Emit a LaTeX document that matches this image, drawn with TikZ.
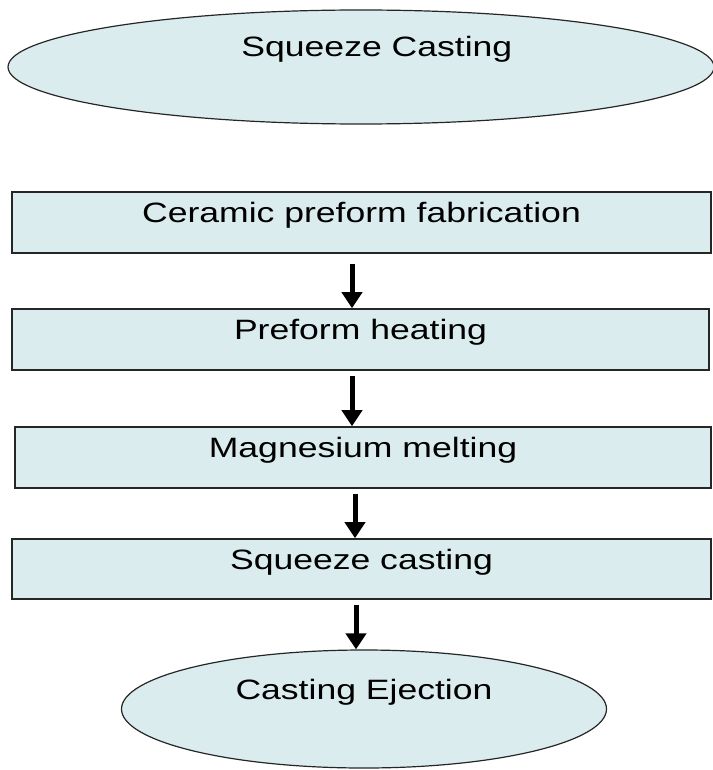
\documentclass[tikz,border=0pt]{standalone}
\usepackage{fontspec}
\setmainfont{Liberation Sans}
\usetikzlibrary{shapes, arrows.meta}
\definecolor{boxfill}{RGB}{218,236,238}
\newcommand{\wtext}[1]{\scalebox{1.27}[1]{#1}}

\begin{document}
\begin{tikzpicture}[x=1pt,y=-1pt]
	\fontsize{28}{34}\selectfont
	\tikzstyle{stage}=[rectangle, draw=black!85, line width=1.6pt, fill=boxfill, inner sep=0pt, minimum height=61pt, text height=21pt, text depth=21pt]
	\tikzstyle{endpoint}=[ellipse, draw=black!85, line width=1.2pt, fill=boxfill, inner sep=0pt, text height=21pt, text depth=41pt]
	\tikzstyle{flow}=[line width=5pt, -{Triangle[width=20pt,length=16pt]}]
	\useasboundingbox (0,0) rectangle (712,770);
	\node[endpoint, minimum width=706pt, minimum height=114pt] (start) at (361,67) {\wtext{\hspace*{25pt}Squeeze Casting}};
	\node[stage, minimum width=699pt] (fab) at (361.5,222.5) {\wtext{Ceramic preform fabrication}};
	\node[stage, minimum width=697pt] (heat) at (360.5,339.5) {\wtext{Preform heating}};
	\node[stage, minimum width=696pt] (melt) at (363,457.5) {\wtext{Magnesium melting}};
	\node[stage, minimum width=699pt, minimum height=60pt] (squeeze) at (361.5,569) {\wtext{Squeeze casting}};
	\node[endpoint, minimum width=485pt, minimum height=118pt] (eject) at (364,709) {\wtext{Casting Ejection}};
	% arrows between the steps
	\draw[flow] ([xshift=-9.5pt,yshift=-10pt]fab.south) -- ([xshift=-8.5pt]heat.north);
	\draw[flow] ([xshift=-8.5pt,yshift=-5pt]heat.south) -- ([xshift=-11pt]melt.north);
	\draw[flow] ([xshift=-8pt,yshift=-5pt]melt.south) -- ([xshift=-6.5pt]squeeze.north);
	\draw[flow] ([xshift=-5.5pt,yshift=-5pt]squeeze.south) -- ([xshift=-8pt]eject.north);
\end{tikzpicture}
\end{document}
